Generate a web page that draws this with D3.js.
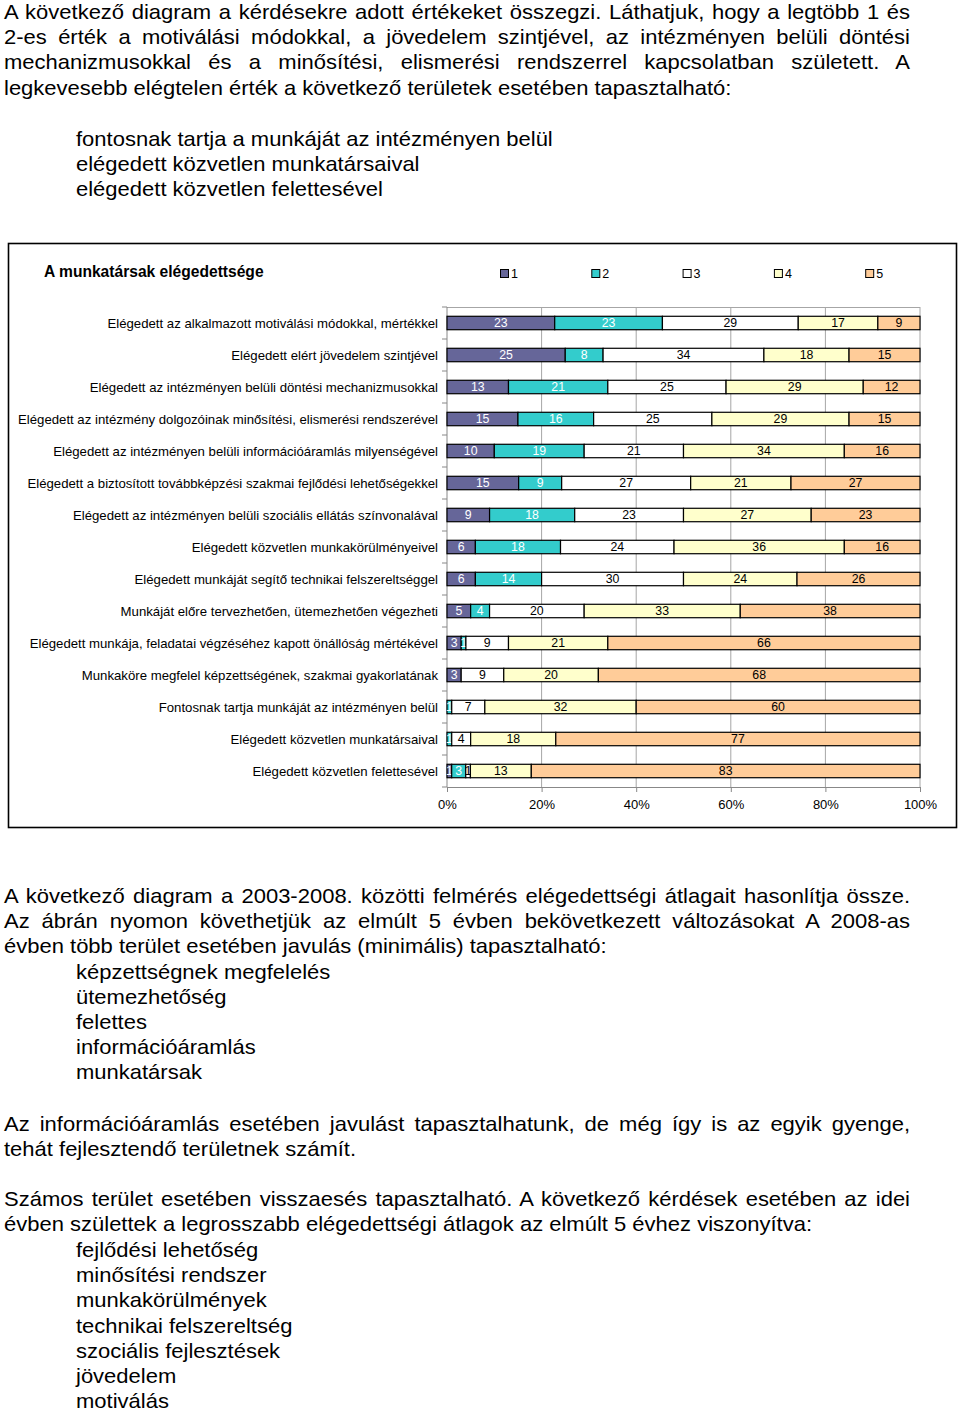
<!DOCTYPE html>
<html>
<head>
<meta charset="utf-8">
<script src="https://cdn.jsdelivr.net/npm/d3@7"></script>
<style>
  body { margin: 0; background: #fff; }
  svg { display: block; }
  text { font-family: "Liberation Sans", Arial, sans-serif; }
</style>
</head>
<body>
<svg id="page" width="960" height="1413"></svg>
<script>
// survey categories (top to bottom)
const categories = [
  "Elégedett az alkalmazott motiválási módokkal, mértékkel",
  "Elégedett elért jövedelem szintjével",
  "Elégedett az intézményen belüli döntési mechanizmusokkal",
  "Elégedett az intézmény dolgozóinak minősítési, elismerési rendszerével",
  "Elégedett az intézményen belüli információáramlás milyenségével",
  "Elégedett a biztosított továbbképzési szakmai fejlődési lehetőségekkel",
  "Elégedett az intézményen belüli szociális ellátás színvonalával",
  "Elégedett közvetlen munkakörülményeivel",
  "Elégedett munkáját segítő technikai felszereltséggel",
  "Munkáját előre tervezhetően, ütemezhetően végezheti",
  "Elégedett munkája, feladatai végzéséhez kapott önállóság mértékével",
  "Munkaköre megfelel képzettségének, szakmai gyakorlatának",
  "Fontosnak tartja munkáját az intézményen belül",
  "Elégedett közvetlen munkatársaival",
  "Elégedett közvetlen felettesével"
];
const seriesNames = ["1", "2", "3", "4", "5"];
const v1 = [23, 25, 13, 15, 10, 15, 9, 6, 6, 5, 3, 3, 0, 0, 1];
const v2 = [23, 8, 21, 16, 19, 9, 18, 18, 14, 4, 1, 0, 1, 1, 3];
const v3 = [29, 34, 25, 25, 21, 27, 23, 24, 30, 20, 9, 9, 7, 4, 1];
const v4 = [17, 18, 29, 29, 34, 21, 27, 36, 24, 33, 21, 20, 32, 18, 13];
const v5 = [9, 15, 12, 15, 16, 27, 23, 16, 26, 38, 66, 68, 60, 77, 83];
const xTicks = [0, 0.2, 0.4, 0.6, 0.8, 1];

const colors = ["#666699", "#33CCCC", "#FFFFFF", "#FFFFCC", "#FFCC99"];
const labelColors = ["#fff", "#fff", "#000", "#000", "#000"];

// prose around the chart: [text, justified]
const para1 = [
  ["A következő diagram a kérdésekre adott értékeket összegzi. Láthatjuk, hogy a legtöbb 1 és", true],
  ["2-es érték a motiválási módokkal, a jövedelem szintjével, az intézményen belüli döntési", true],
  ["mechanizmusokkal és a minősítési, elismerési rendszerrel kapcsolatban született. A", true],
  ["legkevesebb elégtelen érték a következő területek esetében tapasztalható:", false]
];
const list1 = [
  "fontosnak tartja a munkáját az intézményen belül",
  "elégedett közvetlen munkatársaival",
  "elégedett közvetlen felettesével"
];
const para2 = [
  ["A következő diagram a 2003-2008. közötti felmérés elégedettségi átlagait hasonlítja össze.", true],
  ["Az ábrán nyomon követhetjük az elmúlt 5 évben bekövetkezett változásokat A 2008-as", true],
  ["évben több terület esetében javulás (minimális) tapasztalható:", false]
];
const list2 = ["képzettségnek megfelelés", "ütemezhetőség", "felettes", "információáramlás", "munkatársak"];
const para3 = [
  ["Az információáramlás esetében javulást tapasztalhatunk, de még így is az egyik gyenge,", true],
  ["tehát fejlesztendő területnek számít.", false]
];
const para4 = [
  ["Számos terület esetében visszaesés tapasztalható. A következő kérdések esetében az idei", true],
  ["évben születtek a legrosszabb elégedettségi átlagok az elmúlt 5 évhez viszonyítva:", false]
];
const list3 = ["fejlődési lehetőség", "minősítési rendszer", "munkakörülmények", "technikai felszereltség",
  "szociális fejlesztések", "jövedelem", "motiválás"];

const svg = d3.select("#page");
svg.append("rect").attr("width", 960).attr("height", 1413).attr("fill", "#fff");

const lineH = 25.2;
const textLeft = 4, textRight = 910, listLeft = 76;
const stretch = 1.1; // the document text is set a bit wide

function writeLines(lines, x0, y0) {
  lines.forEach((ln, i) => {
    const t = svg.append("text")
      .attr("transform", `translate(${x0},${y0 + i * lineH}) scale(${stretch},1)`)
      .attr("font-size", 20)
      .text(ln[0]);
    if (ln[1]) {
      const w = t.node().getComputedTextLength();
      const spaces = (ln[0].match(/ /g) || []).length;
      t.attr("word-spacing", ((textRight - x0) / stretch - w) / spaces);
    }
  });
}

writeLines(para1, textLeft, 19);
writeLines(list1.map(d => [d, false]), listLeft, 146);
writeLines(para2, textLeft, 903);
writeLines(list2.map(d => [d, false]), listLeft, 978.5);
writeLines(para3, textLeft, 1131);
writeLines(para4, textLeft, 1206);
writeLines(list3.map(d => [d, false]), listLeft, 1257);

// ---- chart ----
svg.append("rect")
  .attr("x", 8.5).attr("y", 243.5)
  .attr("width", 948).attr("height", 584)
  .attr("fill", "#fff").attr("stroke", "#000").attr("stroke-width", 1.6);

svg.append("text")
  .attr("x", 44).attr("y", 277)
  .attr("font-size", 15.6).attr("font-weight", "bold")
  .text("A munkatársak elégedettsége");

const legend = svg.append("g").selectAll("g")
  .data(seriesNames)
  .join("g")
  .attr("transform", (d, i) => `translate(${500 + i * 91.3},269)`);
legend.append("rect")
  .attr("x", 0.5).attr("y", 0.5).attr("width", 8).attr("height", 8)
  .attr("fill", (d, i) => colors[i]).attr("stroke", "#000");
legend.append("text")
  .attr("x", 11).attr("y", 9)
  .attr("font-size", 12.5)
  .text(d => d);

const x = d3.scaleLinear().domain([0, 1]).range([447, 920]);
const y = d3.scaleBand().domain(categories).range([307, 787])
  .paddingInner(0.58).paddingOuter(0.29);

// gridlines + plot border
svg.append("g").selectAll("line")
  .data(xTicks.slice(1))
  .join("line")
  .attr("x1", d => x(d)).attr("x2", d => x(d))
  .attr("y1", 307).attr("y2", 787)
  .attr("stroke", "#a6a6a6");
svg.append("line")
  .attr("x1", x(0)).attr("x2", x(1)).attr("y1", 307.5).attr("y2", 307.5)
  .attr("stroke", "#a6a6a6");

// category axis: ticks at band boundaries
svg.append("line")
  .attr("x1", x(0)).attr("x2", x(0)).attr("y1", 307).attr("y2", 787)
  .attr("stroke", "#888");
svg.append("g").selectAll("line")
  .data(d3.range(categories.length + 1))
  .join("line")
  .attr("x1", x(0) - 5).attr("x2", x(0))
  .attr("y1", i => 307 + i * y.step()).attr("y2", i => 307 + i * y.step())
  .attr("stroke", "#888");

svg.append("g").selectAll("text")
  .data(categories)
  .join("text")
  .attr("x", 438)
  .attr("y", d => y(d) + y.bandwidth() / 2 + 4.6)
  .attr("text-anchor", "end")
  .attr("font-size", 13.2)
  .text(d => d);

// value axis
const xAxis = svg.append("g")
  .attr("transform", "translate(0,787)")
  .call(d3.axisBottom(x).tickValues(xTicks).tickFormat(d3.format(".0%"))
    .tickSize(5).tickPadding(8));
xAxis.select(".domain").attr("stroke", "#888");
xAxis.selectAll(".tick line").attr("stroke", "#888");
xAxis.selectAll("text")
  .attr("font-size", 13)
  .attr("font-family", "Liberation Sans, Arial, sans-serif")
  .attr("fill", "#000");

// stacked 100% bars
const rows = categories.map((c, i) => ({ cat: c, 0: v1[i], 1: v2[i], 2: v3[i], 3: v4[i], 4: v5[i] }));
const stacked = d3.stack().keys(d3.range(5)).offset(d3.stackOffsetExpand)(rows);

const layer = svg.append("g").selectAll("g")
  .data(stacked)
  .join("g")
  .attr("fill", d => colors[d.key]);

layer.selectAll("rect")
  .data(d => d.filter(s => s.data[d.key] > 0))
  .join("rect")
  .attr("x", s => x(s[0]))
  .attr("y", s => y(s.data.cat))
  .attr("width", s => x(s[1]) - x(s[0]))
  .attr("height", y.bandwidth())
  .attr("stroke", "#000")
  .attr("stroke-width", 1.2);

layer.selectAll("text")
  .data(d => d.filter(s => s.data[d.key] > 0).map(s => ({ s, k: d.key })))
  .join("text")
  .attr("x", d => (x(d.s[0]) + x(d.s[1])) / 2)
  .attr("y", d => y(d.s.data.cat) + y.bandwidth() / 2 + 4.4)
  .attr("text-anchor", "middle")
  .attr("font-size", 12.3)
  .attr("fill", d => labelColors[d.k])
  .text(d => d.s.data[d.k]);
</script>
</body>
</html>
